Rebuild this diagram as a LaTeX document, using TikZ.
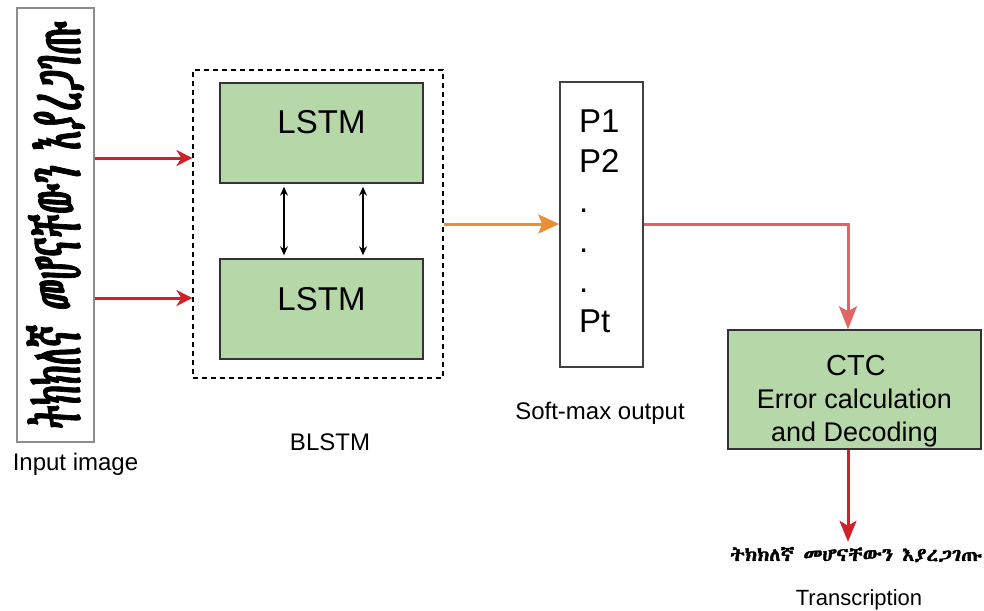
\documentclass[tikz,border=0pt]{standalone}
\usepackage{fontspec}
\setmainfont{Liberation Sans}
\IfFontExistsTF{Abyssinica SIL}
  {\newfontfamily\ethfont[FakeBold=2]{Abyssinica SIL}}
  {\newfontfamily\ethfont[FakeBold=2]{DejaVu Sans}}
\usetikzlibrary{positioning,arrows.meta}
\definecolor{boxgreen}{HTML}{B6D7A8}
\definecolor{inred}{HTML}{D0202A}
\definecolor{outorange}{HTML}{E69138}
\definecolor{softred}{HTML}{E06666}
\tikzstyle{greenbox} = [draw=black!80, fill=boxgreen, line width=1.5pt]
\tikzstyle{plainbox} = [draw=black!75, line width=1.5pt]
\tikzstyle{lbl} = [font=\fontsize{24}{28}\selectfont, anchor=base]
\tikzstyle{big} = [font=\fontsize{33}{33}\selectfont, anchor=base]
\tikzstyle{ctctext} = [font=\fontsize{27}{27}\selectfont, anchor=base]

\begin{document}
\begin{tikzpicture}[x=1pt,y=-1pt,inner sep=0pt]
\useasboundingbox (0,0) rectangle (984,610);

\node[draw=black!45,line width=1.5pt,minimum width=77pt,minimum height=434pt] (img) at (55.5,225) {};
\node[rotate=90] (imgtxt) at (img.center) {\resizebox{408pt}{54pt}{\ethfont ትክክለኛ መሆናቸውን እያረጋገጡ}};
\node[lbl] (imglbl) at (75.5,470) {Input image};

\node[draw,dash pattern=on 5pt off 4pt,line width=1.2pt,minimum width=250pt,minimum height=308pt] (blstm) at (318,224) {};
\node[greenbox,minimum width=203pt,minimum height=100pt] (lstmA) at (321.5,133) {};
\node[greenbox,minimum width=203pt,minimum height=100pt] (lstmB) at (321.5,309) {};
\node[big] (lstmAt) at (321.5,133) {LSTM};
\node[big] (lstmBt) at (321.5,310) {LSTM};
\node[lbl] (blstmlbl) at (330,450) {BLSTM};

\foreach \dx in {-37.5,41.5}
  \draw[line width=1.3pt,shorten <=3pt,shorten >=3pt,{Stealth[length=9pt,width=8pt]}-{Stealth[length=9pt,width=8pt]}] ([xshift=\dx pt]lstmA.south) -- ([xshift=\dx pt]lstmB.north);

\node[plainbox,minimum width=83pt,minimum height=285pt] (soft) at (601.5,224.5) {};
\foreach \t [count=\i] in {P1,P2,.,.,.,Pt}
  \node[font=\fontsize{33}{33}\selectfont,anchor=base west] (p\i) at (579,92+40*\i) {\t};
\node[lbl] (softlbl) at (600,419) {Soft-max output};

\node[greenbox,minimum width=253pt,minimum height=119pt] (ctc) at (854.5,389.5) {};
\node[ctctext,font=\fontsize{29}{29}\selectfont] (ctc1) at (856,375) {CTC};
\node[ctctext] (ctc2) at (854.5,408) {Error calculation};
\node[ctctext] (ctc3) at (854.5,441) {and Decoding};

\node[anchor=base] (trans) at (856,561) {\resizebox{252pt}{14pt}{\ethfont ትክክለኛ መሆናቸውን እያረጋገጡ}};
\node[lbl,font=\fontsize{22}{22}\selectfont] (translbl) at (859,605) {Transcription};

\coordinate (inA) at (0,158);
\coordinate (inB) at (0,298);
\coordinate (turn) at (848,224);

\draw[inred,line width=3pt,-{Stealth[length=16pt,width=16pt,inset=5pt]}] (img.east |- inA) -- (blstm.west |- inA);
\draw[inred,line width=3pt,-{Stealth[length=16pt,width=16pt,inset=5pt]}] (img.east |- inB) -- (blstm.west |- inB);
\draw[outorange,line width=3pt,-{Stealth[length=21pt,width=19pt,inset=4pt]}] (blstm.east |- turn) -- (soft.west |- turn);
\draw[softred,line width=3pt,-{Stealth[length=23pt,width=18pt,inset=5pt]}] (soft.east |- turn) -- (turn) -- (turn |- ctc.north);
\draw[inred,line width=3pt,shorten >=5pt,-{Stealth[length=21pt,width=17pt,inset=5pt]}] (turn |- ctc.south) -- (turn |- trans.north);

\end{tikzpicture}
\end{document}
